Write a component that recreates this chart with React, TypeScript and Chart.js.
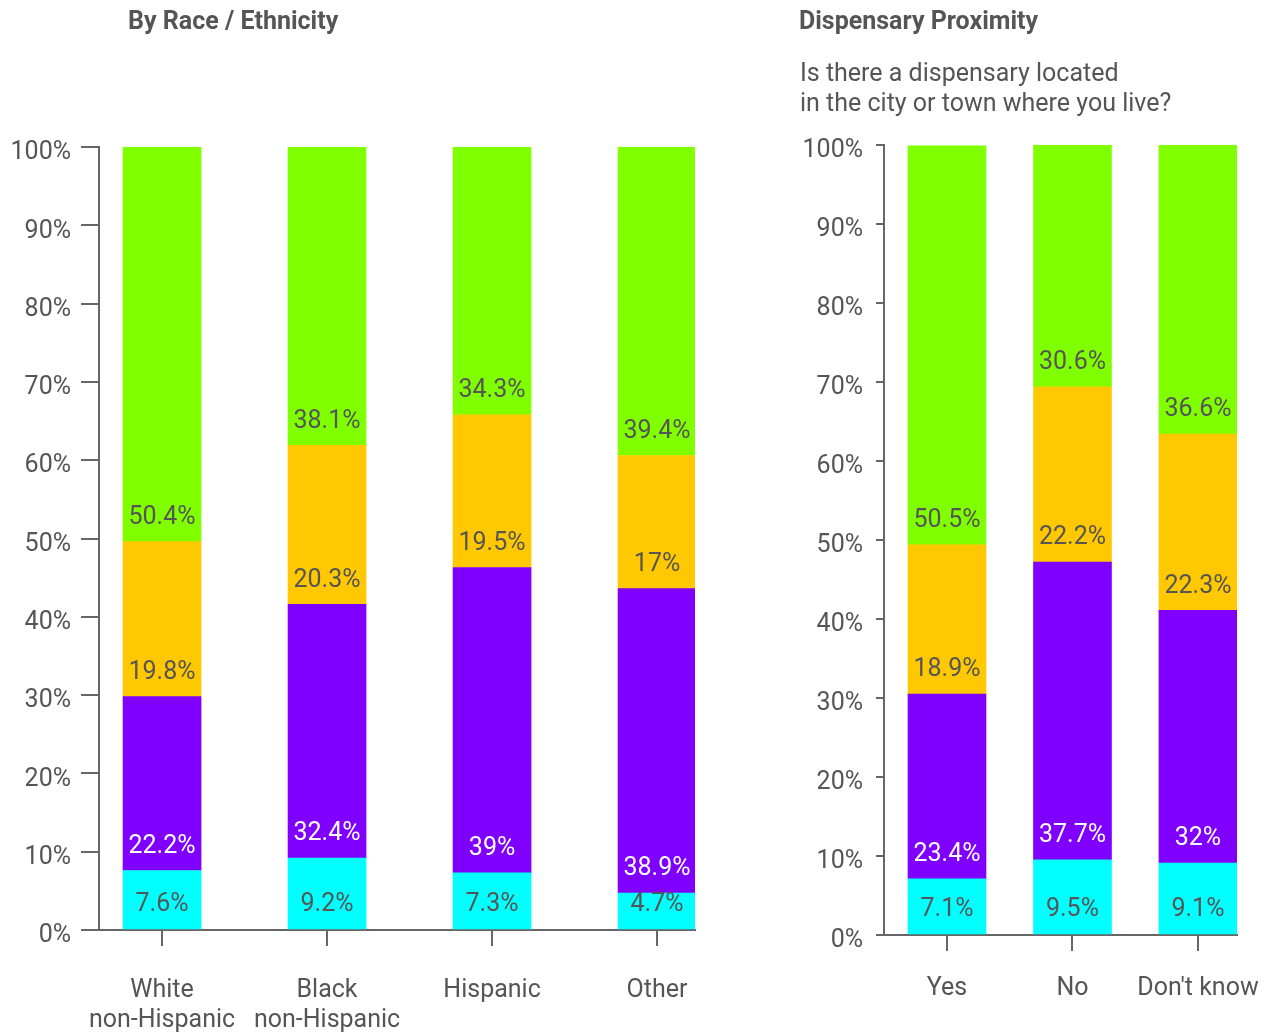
import React, { useEffect, useRef } from "react";
import { Chart, registerables } from "chart.js";

Chart.register(...registerables);

// ---------- data ----------
const raceCategories = [["White", "non-Hispanic"], ["Black", "non-Hispanic"], ["Hispanic"], ["Other"]];
const raceSeg1 = [7.6, 9.2, 7.3, 4.7];
const raceSeg2 = [22.2, 32.4, 39, 38.9];
const raceSeg3 = [19.8, 20.3, 19.5, 17];
const raceSeg4 = [50.4, 38.1, 34.3, 39.4];

const proxCategories = [["Yes"], ["No"], ["Don't know"]];
const proxSeg1 = [7.1, 9.5, 9.1];
const proxSeg2 = [23.4, 37.7, 32];
const proxSeg3 = [18.9, 22.2, 22.3];
const proxSeg4 = [50.5, 30.6, 36.6];

const raceTitle = "By Race / Ethnicity";
const proxTitle = "Dispensary Proximity";
const proxSubtitle = ["Is there a dispensary located", "in the city or town where you live?"];

// ---------- styles ----------
const TEXT = "#555555";
const AXIS = "#666666";
const FONT = "Roboto";
const FS = 25;
const segColors = ["#00FFFF", "#8000FF", "#FFC800", "#80FF00"];
const segLabelColors = [TEXT, "#FFFFFF", TEXT, TEXT];

const valueLabelPlugin = {
  id: "valueLabels",
  afterDatasetsDraw(chart: any) {
    const ctx = chart.ctx;
    ctx.save();
    ctx.font = `${FS}px ${FONT}`;
    ctx.textAlign = "center";
    ctx.textBaseline = "middle";
    chart.data.datasets.forEach((ds: any, di: number) => {
      const meta = chart.getDatasetMeta(di);
      meta.data.forEach((el: any, i: number) => {
        const { x, base } = el.getProps(["x", "base"], true);
        const v = ds.data[i].y;
        ctx.fillStyle = ds.labelColor;
        ctx.fillText(`${v}%`, x, base - 24);
      });
    });
    ctx.restore();
  },
};

type Geo = {
  width: number;
  height: number;
  yAxisWidth: number;
  padTop: number;
  padRight: number;
  xAxisHeight: number;
  xMin: number;
  xMax: number;
  yTickLen: number;
  yTickPad: number;
  xTickLen: number;
  xTickPad: number;
};

function StackedChart({ categories, series, geo }: { categories: string[][]; series: number[][]; geo: Geo }) {
  const ref = useRef<HTMLCanvasElement | null>(null);
  useEffect(() => {
    if (!ref.current) return;
    const datasets = series.map((vals, si) => ({
      label: `Segment ${si + 1}`,
      data: vals.map((v, i) => ({ x: i, y: v })),
      backgroundColor: segColors[si],
      borderWidth: 0,
      barThickness: 78,
      labelColor: segLabelColors[si],
    }));
    const chart = new Chart(ref.current, {
      type: "bar",
      data: { datasets } as any,
      plugins: [valueLabelPlugin],
      options: {
        animation: false,
        responsive: false,
        devicePixelRatio: 1,
        layout: { padding: { top: geo.padTop, right: geo.padRight, left: 0, bottom: 0 } },
        plugins: { legend: { display: false }, tooltip: { enabled: false }, title: { display: false } },
        scales: {
          x: {
            type: "linear",
            stacked: true,
            offset: false,
            min: geo.xMin,
            max: geo.xMax,
            z: 1,
            afterBuildTicks: (s: any) => {
              s.ticks = categories.map((_, i) => ({ value: i }));
            },
            afterFit: (s: any) => {
              s.height = geo.xAxisHeight;
              s.paddingLeft = 0;
              s.paddingRight = 0;
            },
            ticks: {
              autoSkip: false,
              maxRotation: 0,
              minRotation: 0,
              padding: geo.xTickPad,
              color: TEXT,
              font: { family: FONT, size: FS, lineHeight: 1.2 },
              callback: (v: any) => categories[Math.round(Number(v))] as any,
            },
            grid: {
              offset: false,
              drawOnChartArea: false,
              drawTicks: true,
              tickLength: geo.xTickLen,
              color: AXIS,
              lineWidth: 2,
            },
            border: { display: true, color: AXIS, width: 2 },
          },
          y: {
            stacked: true,
            min: 0,
            max: 100,
            afterFit: (s: any) => {
              s.width = geo.yAxisWidth;
              s.paddingTop = 0;
              s.paddingBottom = 0;
            },
            ticks: {
              stepSize: 10,
              padding: geo.yTickPad,
              labelOffset: 6,
              color: TEXT,
              font: { family: FONT, size: FS },
              callback: (v: any) => `${v}%`,
            },
            grid: { drawOnChartArea: false, drawTicks: true, tickLength: geo.yTickLen, color: AXIS, lineWidth: 2 },
            border: { display: true, color: AXIS, width: 2 },
          },
        },
      } as any,
    });
    return () => chart.destroy();
  }, []);
  return <canvas ref={ref} width={geo.width} height={geo.height} style={{ width: geo.width, height: geo.height, display: "block" }} />;
}

const titleStyle: React.CSSProperties = {
  position: "absolute",
  top: 6,
  fontFamily: FONT,
  fontWeight: 700,
  fontSize: FS,
  lineHeight: "30px",
  color: TEXT,
  whiteSpace: "nowrap",
};

export default function App() {
  return (
    <div style={{ position: "absolute", left: 0, top: 0, width: 1270, height: 1034, background: "#fff", overflow: "hidden" }}>
      <div style={{ position: "absolute", left: 0, top: 0 }}>
        <StackedChart
          categories={raceCategories}
          series={[raceSeg1, raceSeg2, raceSeg3, raceSeg4]}
          geo={{
            width: 730,
            height: 1034,
            yAxisWidth: 99,
            padTop: 147,
            padRight: 35,
            xAxisHeight: 104,
            xMin: -0.382,
            xMax: 3.23,
            yTickLen: 18,
            yTickPad: 10,
            xTickLen: 16,
            xTickPad: 30,
          }}
        />
      </div>
      <div style={{ position: "absolute", left: 730, top: 0 }}>
        <StackedChart
          categories={proxCategories}
          series={[proxSeg1, proxSeg2, proxSeg3, proxSeg4]}
          geo={{
            width: 540,
            height: 1034,
            yAxisWidth: 154,
            padTop: 145,
            padRight: 33,
            xAxisHeight: 99,
            xMin: -0.502,
            xMax: 2.311,
            yTickLen: 8,
            yTickPad: 13,
            xTickLen: 16,
            xTickPad: 23,
          }}
        />
      </div>
      <div style={{ ...titleStyle, left: 128 }}>{raceTitle}</div>
      <div style={{ ...titleStyle, left: 799 }}>{proxTitle}</div>
      <div
        style={{
          position: "absolute",
          left: 800,
          top: 58,
          fontFamily: FONT,
          fontSize: FS,
          lineHeight: "30px",
          color: TEXT,
          whiteSpace: "nowrap",
        }}
      >
        {proxSubtitle.map((l, i) => (
          <div key={i}>{l}</div>
        ))}
      </div>
    </div>
  );
}
